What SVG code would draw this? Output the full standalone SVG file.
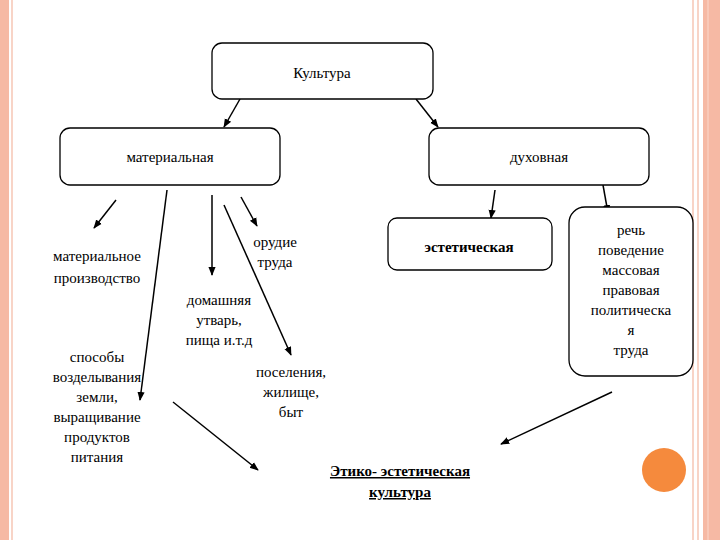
<svg xmlns="http://www.w3.org/2000/svg" width="720" height="540" viewBox="0 0 720 540">
<defs>
<style>
.b{fill:#fff;stroke:#000;stroke-width:1.3}
.t{font-family:'Liberation Serif','Times New Roman','DejaVu Serif',serif;font-size:15px;text-anchor:middle;fill:#000}
.bd{font-weight:bold}
.c line{stroke:#000;stroke-width:1.5;marker-end:url(#a)}
</style>
<marker id="a" viewBox="0 0 10 10" refX="9" refY="5" markerWidth="6" markerHeight="6" orient="auto"><path d="M0,1L10,5L0,9z" fill="#000"/></marker>
</defs>
<rect width="720" height="540" fill="#fff"/>
<g id="frame">
<rect x="0" y="0" width="9" height="540" fill="#f6b9a4"/>
<line x1="12" y1="0" x2="12" y2="540" stroke="#f6c6b4" stroke-width="1.5"/>
<line x1="693" y1="0" x2="693" y2="540" stroke="#f6c6b4" stroke-width="1.5"/>
<line x1="698" y1="0" x2="698" y2="540" stroke="#f6c6b4" stroke-width="1.5"/>
<rect x="703" y="0" width="17" height="540" fill="#f6b9a4"/>
<line x1="708" y1="0" x2="708" y2="540" stroke="#fbd8cb" stroke-width="1"/>
<circle cx="664" cy="470" r="22" fill="#f58a3d"/>
</g>
<g class="c">
<line x1="240" y1="99" x2="224" y2="127"/>
<line x1="416" y1="99" x2="438" y2="127"/>
<line x1="116" y1="200" x2="94" y2="228"/>
<line x1="167" y1="190" x2="140" y2="400"/>
<line x1="212" y1="195" x2="212" y2="275"/>
<line x1="224" y1="205" x2="291" y2="355"/>
<line x1="241" y1="197" x2="257" y2="226"/>
<line x1="495" y1="190" x2="491" y2="218"/>
<line x1="603" y1="185" x2="608" y2="213"/>
<line x1="612" y1="392" x2="501" y2="444"/>
<line x1="173" y1="402" x2="258" y2="470"/>
</g>
<g font-family="Liberation Serif, DejaVu Serif, serif">
<g id="kultura"><rect class="b" x="212" y="43" width="221" height="56" rx="10"/><text class="t" x="322" y="78">Культура</text></g>
<g id="material"><rect class="b" x="60" y="128" width="220" height="57" rx="10"/><text class="t" x="170" y="162">материальная</text></g>
<g id="duh"><rect class="b" x="429" y="128" width="220" height="57" rx="10"/><text class="t" x="539" y="162">духовная</text></g>
<g id="est"><rect class="b" x="388" y="218" width="164" height="52" rx="9"/><text class="t bd" x="469" y="252">эстетическая</text></g>
<g id="rech"><rect class="b" x="569" y="207" width="124" height="169" rx="16"/>
<text class="t"><tspan x="631" y="235">речь</tspan><tspan x="631" y="255">поведение</tspan><tspan x="631" y="275">массовая</tspan><tspan x="631" y="295">правовая</tspan><tspan x="631" y="315">политическа</tspan><tspan x="631" y="335">я</tspan><tspan x="631" y="355">труда</tspan></text></g>
<g id="mp"><text class="t"><tspan x="97" y="261">материальное</tspan><tspan x="97" y="283">производство</tspan></text></g>
<g id="sp"><text class="t"><tspan x="97" y="362">способы</tspan><tspan x="97" y="382">возделывания</tspan><tspan x="97" y="402">земли,</tspan><tspan x="97" y="422">выращивание</tspan><tspan x="97" y="442">продуктов</tspan><tspan x="97" y="462">питания</tspan></text></g>
<g id="or"><text class="t"><tspan x="275" y="247">орудие</tspan><tspan x="275" y="267">труда</tspan></text></g>
<g id="dom"><text class="t"><tspan x="219" y="305">домашняя</tspan><tspan x="219" y="325">утварь,</tspan><tspan x="219" y="345">пища и.т.д</tspan></text></g>
<g id="pos"><text class="t"><tspan x="291" y="377">поселения,</tspan><tspan x="291" y="397">жилище,</tspan><tspan x="291" y="417">быт</tspan></text></g>
<g id="etiko"><text class="t bd" text-decoration="underline"><tspan x="400" y="476">Этико- эстетическая</tspan><tspan x="400" y="497">культура</tspan></text></g>
</g>
</svg>
